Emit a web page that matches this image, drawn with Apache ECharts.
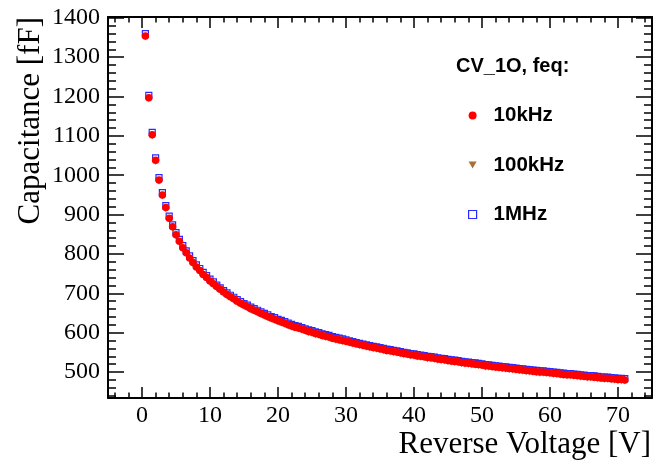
<!DOCTYPE html>
<html>
<head>
<meta charset="utf-8">
<title>CV_1O</title>
<script src="https://cdn.jsdelivr.net/npm/echarts@6/dist/echarts.min.js"></script>
<style>
  html, body { margin: 0; padding: 0; background: #fff; }
  #chart { width: 656px; height: 466px; }
</style>
</head>
<body>
<div id="chart"></div>
<script>
// Reverse-bias sweep, 0.5 V steps
const voltage = [
  0.5, 1, 1.5, 2, 2.5, 3, 3.5, 4, 4.5, 5,
  5.5, 6, 6.5, 7, 7.5, 8, 8.5, 9, 9.5, 10,
  10.5, 11, 11.5, 12, 12.5, 13, 13.5, 14, 14.5, 15,
  15.5, 16, 16.5, 17, 17.5, 18, 18.5, 19, 19.5, 20,
  20.5, 21, 21.5, 22, 22.5, 23, 23.5, 24, 24.5, 25,
  25.5, 26, 26.5, 27, 27.5, 28, 28.5, 29, 29.5, 30,
  30.5, 31, 31.5, 32, 32.5, 33, 33.5, 34, 34.5, 35,
  35.5, 36, 36.5, 37, 37.5, 38, 38.5, 39, 39.5, 40,
  40.5, 41, 41.5, 42, 42.5, 43, 43.5, 44, 44.5, 45,
  45.5, 46, 46.5, 47, 47.5, 48, 48.5, 49, 49.5, 50,
  50.5, 51, 51.5, 52, 52.5, 53, 53.5, 54, 54.5, 55,
  55.5, 56, 56.5, 57, 57.5, 58, 58.5, 59, 59.5, 60,
  60.5, 61, 61.5, 62, 62.5, 63, 63.5, 64, 64.5, 65,
  65.5, 66, 66.5, 67, 67.5, 68, 68.5, 69, 69.5, 70,
  70.5, 71
];

// Capacitance [fF] at 10 kHz
const cap10kHz = [
  1354, 1197, 1103, 1038, 988, 950, 918, 891, 869, 849,
  832, 816, 803, 790, 778, 767, 758, 748, 740, 731,
  724, 717, 710, 703, 697, 691, 686, 680, 675, 670,
  666, 661, 657, 653, 649, 645, 641, 637, 634, 630,
  627, 624, 620, 617, 614, 612, 609, 606, 603, 601,
  598, 596, 593, 591, 589, 586, 584, 582, 580, 578,
  576, 574, 572, 570, 568, 566, 564, 562, 561, 559,
  557, 555, 554, 552, 551, 549, 547, 546, 544, 543,
  541, 540, 539, 537, 536, 535, 533, 532, 531, 529,
  528, 527, 526, 524, 523, 522, 521, 520, 519, 518,
  516, 515, 514, 513, 512, 511, 510, 509, 508, 507,
  506, 505, 504, 503, 502, 501, 500, 500, 499, 498,
  497, 496, 495, 494, 493, 493, 492, 491, 490, 489,
  488, 488, 487, 486, 485, 484, 484, 483, 482, 481,
  481, 480
];

// Capacitance [fF] at 100 kHz
const cap100kHz = [
  1351, 1194, 1100, 1035, 985, 947, 915, 888, 866, 846,
  829, 813, 800, 787, 775, 764, 755, 745, 737, 728,
  721, 714, 707, 700, 694, 688, 683, 677, 672, 667,
  663, 658, 654, 650, 646, 642, 638, 634, 631, 627,
  624, 621, 617, 614, 611, 609, 606, 603, 600, 598,
  595, 593, 590, 588, 586, 583, 581, 579, 577, 575,
  573, 571, 569, 567, 565, 563, 561, 559, 558, 556,
  554, 552, 551, 549, 548, 546, 544, 543, 541, 540,
  538, 537, 536, 534, 533, 532, 530, 529, 528, 526,
  525, 524, 523, 521, 520, 519, 518, 517, 516, 515,
  513, 512, 511, 510, 509, 508, 507, 506, 505, 504,
  503, 502, 501, 500, 499, 498, 497, 497, 496, 495,
  494, 493, 492, 491, 490, 490, 489, 488, 487, 486,
  485, 485, 484, 483, 482, 481, 481, 480, 479, 478,
  478, 477
];

// Capacitance [fF] at 1 MHz
const cap1MHz = [
  1360, 1203, 1109, 1044, 994, 956, 923, 896, 874, 854,
  837, 821, 808, 795, 783, 772, 763, 753, 745, 736,
  729, 721, 714, 707, 701, 695, 690, 684, 679, 674,
  670, 665, 661, 657, 653, 649, 645, 641, 638, 634,
  631, 628, 624, 621, 618, 616, 613, 610, 607, 605,
  602, 600, 597, 595, 593, 590, 588, 586, 584, 582,
  579, 577, 575, 573, 571, 569, 567, 565, 564, 562,
  560, 558, 557, 555, 554, 552, 550, 549, 547, 546,
  544, 543, 542, 540, 539, 538, 536, 535, 534, 532,
  531, 530, 529, 527, 526, 525, 524, 523, 522, 521,
  519, 518, 517, 516, 515, 514, 513, 512, 511, 510,
  509, 508, 507, 506, 505, 504, 503, 503, 502, 501,
  500, 499, 498, 497, 496, 496, 495, 494, 493, 492,
  491, 491, 490, 489, 488, 487, 487, 486, 485, 484,
  484, 483
];

const seriesNames = ['10kHz', '100kHz', '1MHz'];
const legendTitle = 'CV_1O, feq:';
const xTitle = 'Reverse Voltage [V]';
const yTitle = 'Capacitance [fF]';

// Axis ranges and tick positions
const xRange = [-5, 75];
const yRange = [434, 1402];
const xMajorTicks = [0, 10, 20, 30, 40, 50, 60, 70];
const yMajorTicks = [500, 600, 700, 800, 900, 1000, 1100, 1200, 1300, 1400];

function minorTicks(from, to, step, major) {
  const out = [];
  for (let v = from; v <= to + 1e-9; v += step) {
    const r = Math.round(v * 100) / 100;
    if (r % major !== 0) out.push(r);
  }
  return out;
}
const xMinorTicks = minorTicks(-4, 74, 2, 10);
const yMinorTicks = minorTicks(440, 1400, 20, 100);

const SERIF = '"Liberation Serif", "Times New Roman", Times, serif';
const SANS = '"Liberation Sans", Arial, Helvetica, sans-serif';

function pairs(ys) {
  return voltage.map((v, i) => [v, ys[i]]);
}

function tickAxis(kind, position, ticks, len, opts) {
  const axis = {
    type: 'value',
    position: position,
    min: kind === 'x' ? xRange[0] : yRange[0],
    max: kind === 'x' ? xRange[1] : yRange[1],
    splitLine: { show: false },
    axisLine: { show: false, onZero: false },
    axisTick: {
      show: true,
      inside: true,
      length: len,
      customValues: ticks,
      lineStyle: { color: '#000', width: 1.5 }
    },
    axisLabel: { show: false },
    silent: true
  };
  return Object.assign(axis, opts || {});
}

const frameLine = { show: true, onZero: false, lineStyle: { color: '#000', width: 2 } };

const chart = echarts.init(document.getElementById('chart'), null, { renderer: 'canvas' });

chart.setOption({
  animation: false,
  backgroundColor: '#fff',
  grid: { left: 108, right: 4, top: 17, bottom: 68, containLabel: false },
  title: {
    text: legendTitle,
    left: 456,
    top: 56,
    padding: 0,
    textStyle: { fontFamily: SANS, fontSize: 20, fontWeight: 'bold', color: '#000', lineHeight: 20 }
  },
  legend: {
    orient: 'vertical',
    left: 468,
    top: 105,
    padding: 0,
    itemWidth: 8,
    itemHeight: 8,
    itemGap: 28.5,
    selectedMode: false,
    data: [
      { name: seriesNames[0] },
      { name: seriesNames[1], icon: 'path://M0,0L10,0L5,9Z' },
      { name: seriesNames[2], itemStyle: { borderWidth: 1.2 } }
    ],
    textStyle: {
      fontFamily: SANS, fontSize: 20.5, fontWeight: 'bold', color: '#000',
      lineHeight: 20, padding: [0, 0, 0, 12]
    }
  },
  xAxis: [
    tickAxis('x', 'bottom', xMajorTicks, 11, {
      axisLine: frameLine,
      axisLabel: {
        show: true, customValues: xMajorTicks, margin: 6,
        fontFamily: SERIF, fontSize: 24, color: '#000',
        formatter: v => String(v)
      },
      name: xTitle,
      nameLocation: 'end',
      nameGap: -1,
      nameTextStyle: {
        fontFamily: SERIF, fontSize: 31, color: '#000',
        align: 'right', verticalAlign: 'top', padding: [31, 0, 0, 0]
      }
    }),
    tickAxis('x', 'bottom', xMinorTicks, 5.5),
    tickAxis('x', 'top', xMajorTicks, 11, { axisLine: frameLine }),
    tickAxis('x', 'top', xMinorTicks, 5.5)
  ],
  yAxis: [
    tickAxis('y', 'left', yMajorTicks, 16, {
      axisLine: frameLine,
      axisLabel: {
        show: true, customValues: yMajorTicks, margin: 8,
        fontFamily: SERIF, fontSize: 24, color: '#000',
        formatter: v => String(v)
      }
    }),
    tickAxis('y', 'left', yMinorTicks, 8),
    tickAxis('y', 'right', yMajorTicks, 16, { axisLine: frameLine }),
    tickAxis('y', 'right', yMinorTicks, 8)
  ],
  graphic: [{
    type: 'text',
    x: 31,
    y: 17,
    rotation: Math.PI / 2,
    silent: true,
    style: {
      text: yTitle,
      fontFamily: SERIF,
      fontSize: 31,
      fill: '#000',
      align: 'right',
      verticalAlign: 'middle'
    }
  }],
  series: [
    {
      name: seriesNames[2],
      type: 'scatter',
      xAxisIndex: 0, yAxisIndex: 0,
      symbol: 'rect',
      symbolSize: 6,
      itemStyle: { color: 'rgba(255,255,255,0)', borderColor: '#2a2aff', borderWidth: 1.2, opacity: 1 },
      data: pairs(cap1MHz),
      z: 2
    },
    {
      name: seriesNames[1],
      type: 'scatter',
      xAxisIndex: 0, yAxisIndex: 0,
      symbol: 'triangle',
      symbolRotate: 180,
      symbolSize: 7,
      itemStyle: { color: '#aa6e37', borderColor: '#aa6e37', borderWidth: 0, opacity: 1 },
      data: pairs(cap100kHz),
      z: 3
    },
    {
      name: seriesNames[0],
      type: 'scatter',
      xAxisIndex: 0, yAxisIndex: 0,
      symbol: 'circle',
      symbolSize: 7.5,
      itemStyle: { color: '#ff0000', borderColor: '#ff0000', borderWidth: 0, opacity: 1 },
      data: pairs(cap10kHz),
      z: 4
    }
  ]
});
</script>
</body>
</html>
